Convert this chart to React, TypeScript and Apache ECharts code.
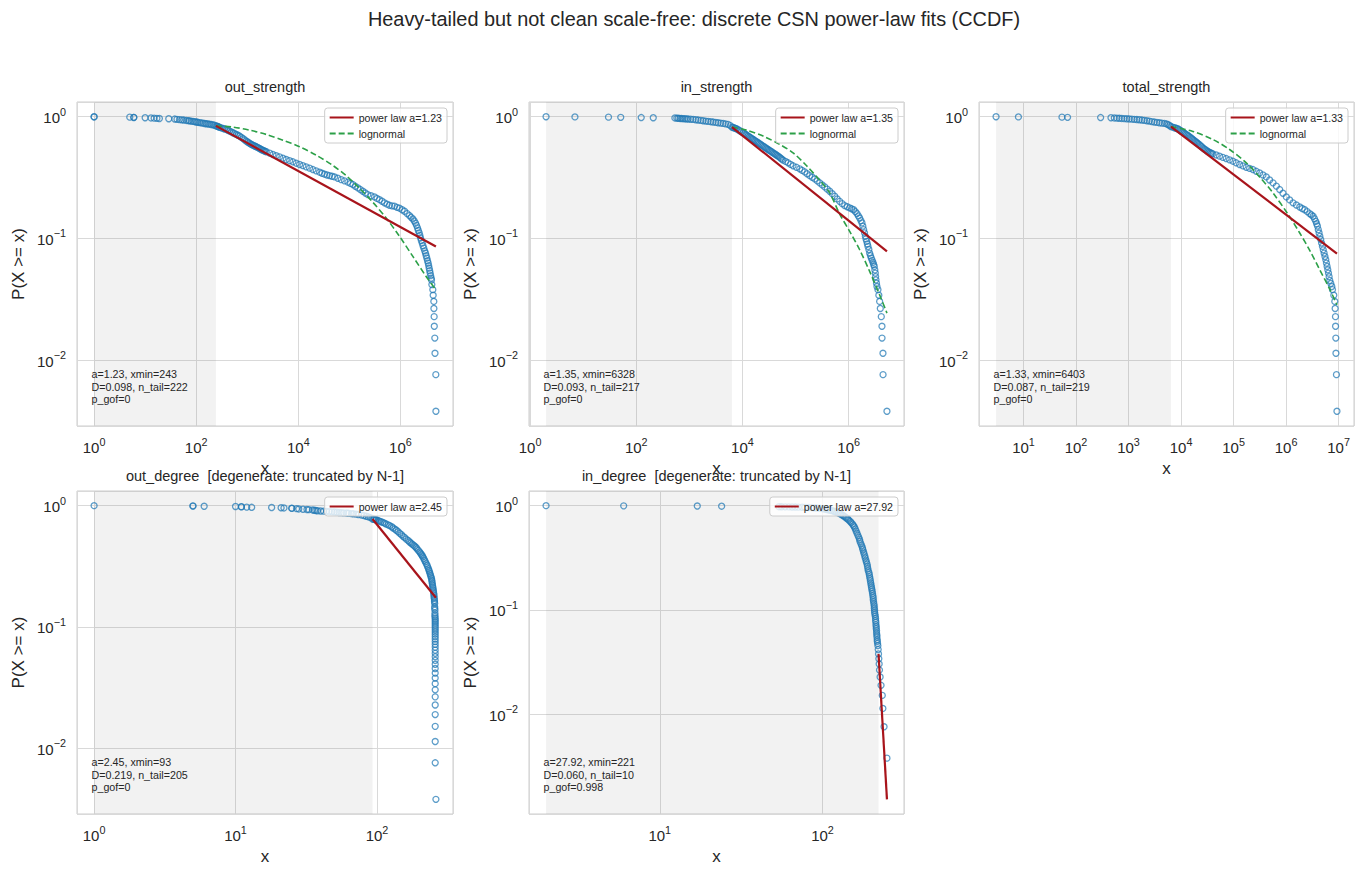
import { useEffect, useRef } from 'react';
import * as echarts from 'echarts';

type Pt = [number, number];

// number of nodes in the network (CCDF denominator)
const N_NODES = 264;

const panelTitles = [
  'out_strength',
  'in_strength',
  'total_strength',
  'out_degree  [degenerate: truncated by N-1]',
  'in_degree  [degenerate: truncated by N-1]',
];

// discrete CSN power-law fit results per variable
const fitAlpha = [1.23, 1.35, 1.33, 2.45, 27.92];
const fitXmin = [243, 6328, 6403, 93, 221];
const fitD = [0.098, 0.093, 0.087, 0.219, 0.06];
const fitNTail = [222, 217, 219, 205, 10];
const fitPgof = [0, 0, 0, 0, 0.998];

// empirical CCDF points: [x, P(X >= x)]
const outStrengthCCDF: Pt[] = [
  [1, 1], [1, 0.9962], [5, 0.9924], [6, 0.9886], [6, 0.9848], [10, 0.981], [13, 0.977], [15, 0.973], [17, 0.97], [19, 0.967],
  [29, 0.963], [38, 0.957], [42, 0.952], [47, 0.947], [52, 0.943], [57, 0.939], [64, 0.932], [70, 0.928], [74, 0.925], [80, 0.92],
  [87, 0.915], [94, 0.91], [101, 0.904], [108, 0.9], [117, 0.895], [126, 0.89], [136, 0.885], [147, 0.88], [158, 0.876], [170, 0.872],
  [183, 0.868], [198, 0.863], [213, 0.858], [228, 0.853], [243, 0.841], [255, 0.836], [265, 0.832], [276, 0.825], [288, 0.817], [310, 0.809],
  [335, 0.801], [360, 0.793], [389, 0.786], [418, 0.774], [450, 0.762], [487, 0.75], [525, 0.738], [566, 0.726], [610, 0.715], [658, 0.704],
  [709, 0.693], [768, 0.676], [830, 0.66], [892, 0.645], [957, 0.63], [1015, 0.62], [1080, 0.61], [1138, 0.601], [1199, 0.592], [1272, 0.585],
  [1350, 0.579], [1425, 0.572], [1503, 0.566], [1595, 0.559], [1690, 0.552], [1785, 0.545], [1884, 0.538], [1990, 0.532], [2100, 0.526], [2225, 0.52],
  [2356, 0.515], [2750, 0.502], [3184, 0.489], [3700, 0.478], [4300, 0.468], [5000, 0.456], [5803, 0.445], [6750, 0.435],
  [7834, 0.426], [9100, 0.415], [10590, 0.405], [12300, 0.396], [14290, 0.387], [16600, 0.378], [19320, 0.368], [22400, 0.359], [26070, 0.35], [29200, 0.343],
  [32670, 0.337], [36600, 0.332], [40900, 0.328], [45800, 0.324], [51260, 0.32], [59500, 0.312], [69190, 0.304], [80400, 0.297], [93470, 0.29], [105000, 0.283],
  [117000, 0.277], [131000, 0.268], [146600, 0.26], [164000, 0.252], [183600, 0.244], [205000, 0.236], [230000, 0.229], [266000, 0.224], [310400, 0.219], [348000, 0.213],
  [388900, 0.208], [437000, 0.202], [487300, 0.196], [547000, 0.191], [611000, 0.187], [685000, 0.185], [765500, 0.184], [857000, 0.18], [959000, 0.177], [1080000, 0.172],
  [1202000, 0.167], [1350000, 0.16], [1503000, 0.154], [1620000, 0.149], [1750000, 0.1445], [1860000, 0.139], [1972000, 0.1335], [2060000, 0.128], [2158000, 0.1219], [2240000, 0.116],
  [2328000, 0.111], [2400000, 0.106], [2472000, 0.101], [2560000, 0.096], [2663000, 0.0914], [2760000, 0.087], [2870000, 0.0831], [2980000, 0.079], [3097000, 0.0756], [3190000, 0.072],
  [3289000, 0.0688], [3390000, 0.0655], [3491000, 0.0626], [3570000, 0.0597], [3655000, 0.0569], [3740000, 0.0543], [3818000, 0.0518], [3910000, 0.0494], [3999000, 0.0471], [4060000, 0.04545],
  [4121000, 0.04167], [4305000, 0.03788], [4372000, 0.03409], [4505000, 0.0303], [4520000, 0.02652], [4571000, 0.02273], [4600000, 0.01894], [4710000, 0.01515], [4750000, 0.01136], [4930000, 0.00758],
  [4950000, 0.00379],
];

const inStrengthCCDF: Pt[] = [
  [2, 1], [7, 0.9962], [30, 0.9924], [51, 0.9886], [124, 0.9848], [209, 0.9811], [534, 0.977], [580, 0.974], [617, 0.971], [665, 0.968],
  [713, 0.966], [765, 0.964], [823, 0.962], [885, 0.96], [951, 0.957], [1060, 0.954], [1180, 0.951], [1320, 0.945], [1466, 0.939], [1640, 0.933],
  [1820, 0.927], [2040, 0.921], [2260, 0.915], [2530, 0.91], [2806, 0.904], [3140, 0.898], [3484, 0.892], [3900, 0.886], [4325, 0.881], [4800, 0.873],
  [5370, 0.865], [5900, 0.845], [6328, 0.822], [6650, 0.816], [7000, 0.81], [7350, 0.803], [7710, 0.796], [8300, 0.781], [8900, 0.767], [9550, 0.752],
  [10300, 0.738], [10900, 0.726], [11500, 0.715], [12100, 0.704], [12790, 0.693], [13500, 0.682], [14300, 0.671], [15100, 0.66], [15880, 0.65], [16800, 0.64],
  [17700, 0.63], [18700, 0.62], [19720, 0.611], [20800, 0.601], [22000, 0.592], [23200, 0.582], [24490, 0.573], [25900, 0.564], [27300, 0.555], [28800, 0.546],
  [30410, 0.538], [32100, 0.529], [33900, 0.521], [35800, 0.513], [37760, 0.505], [39900, 0.497], [42100, 0.489], [44500, 0.481], [46900, 0.474], [49600, 0.465],
  [52300, 0.457], [55200, 0.448], [58160, 0.44], [64800, 0.429], [72270, 0.418], [80500, 0.406], [89700, 0.395], [104000, 0.384], [119700, 0.373], [133000, 0.362],
  [148600, 0.352], [165000, 0.34], [184600, 0.328], [206000, 0.318], [229400, 0.308], [256000, 0.297], [284900, 0.286], [318000, 0.275], [354000, 0.265], [395000, 0.254],
  [439500, 0.244], [490000, 0.233], [545800, 0.222], [608000, 0.211], [677000, 0.2015], [755000, 0.193], [841400, 0.186], [940000, 0.182], [1045000, 0.178], [1140000, 0.175],
  [1241000, 0.172], [1335000, 0.166], [1435000, 0.16], [1520000, 0.153], [1611000, 0.147], [1700000, 0.14], [1782000, 0.134], [1850000, 0.126], [1916000, 0.118], [1990000, 0.111],
  [2060000, 0.104], [2120000, 0.099], [2183000, 0.0945], [2250000, 0.09], [2310000, 0.0859], [2400000, 0.081], [2484000, 0.0757], [2575000, 0.072], [2669000, 0.0688], [2770000, 0.066],
  [2870000, 0.0634], [2950000, 0.061], [3040000, 0.0588], [3110000, 0.055], [3177000, 0.0518], [3220000, 0.0485], [3268000, 0.0456], [3340000, 0.0428], [3412000, 0.0402], [3560000, 0.03788],
  [3700000, 0.03409], [3829000, 0.0303], [3941000, 0.02652], [4115000, 0.02273], [4237000, 0.01894], [4250000, 0.01515], [4426000, 0.01136], [4440000, 0.00758], [5260000, 0.00379],
];

const totalStrengthCCDF: Pt[] = [
  [3, 1], [8, 0.9962], [54, 0.9924], [69, 0.9886], [294, 0.9848], [463, 0.9811], [536, 0.977], [600, 0.974], [667, 0.971], [745, 0.968],
  [832, 0.965], [930, 0.962], [1036, 0.959], [1160, 0.955], [1291, 0.951], [1440, 0.948], [1607, 0.945], [1800, 0.939], [2004, 0.933], [2240, 0.927],
  [2495, 0.921], [2780, 0.912], [3107, 0.904], [3470, 0.898], [3873, 0.892], [4320, 0.886], [4823, 0.881], [5300, 0.872], [5700, 0.86], [6100, 0.845],
  [6403, 0.8295], [6950, 0.821], [7500, 0.812], [8050, 0.804], [8650, 0.796], [9150, 0.783], [9700, 0.771], [10250, 0.759], [10790, 0.747], [11400, 0.735],
  [12000, 0.724], [12700, 0.713], [13430, 0.702], [14200, 0.689], [15000, 0.676], [15900, 0.663], [16750, 0.65], [17700, 0.638], [18700, 0.626], [19800, 0.614],
  [20860, 0.603], [22100, 0.591], [23300, 0.579], [24600, 0.567], [26000, 0.555], [27500, 0.545], [29000, 0.536], [30700, 0.527], [32360, 0.518], [34200, 0.512],
  [36100, 0.506], [38200, 0.5], [40340, 0.4955], [46700, 0.485], [54050, 0.474], [62500, 0.463],
  [72440, 0.453], [84000, 0.442], [97070, 0.431], [112000, 0.418], [130300, 0.405], [151000, 0.394], [174600, 0.384], [202000, 0.376], [233900, 0.368], [271000, 0.356],
  [313400, 0.345], [363000, 0.332], [419800, 0.32], [486000, 0.302], [563300, 0.286], [652000, 0.269], [755100, 0.252], [873000, 0.235], [1011000, 0.219], [1170000, 0.207],
  [1355000, 0.196], [1570000, 0.188], [1820000, 0.181], [2030000, 0.176], [2265000, 0.172], [2530000, 0.166], [2820000, 0.1597], [3030000, 0.156], [3266000, 0.152], [3470000, 0.145],
  [3673000, 0.1381], [3810000, 0.132], [3954000, 0.1263], [4100000, 0.118], [4250000, 0.1107], [4400000, 0.104], [4571000, 0.0978], [4740000, 0.0915], [4918000, 0.0859], [5100000, 0.0805],
  [5294000, 0.0757], [5490000, 0.071], [5697000, 0.0668], [5860000, 0.0626], [6040000, 0.0588], [6220000, 0.0552], [6411000, 0.0518], [6600000, 0.0484], [6792000, 0.0451], [7100000, 0.0426],
  [7420000, 0.0402], [7638000, 0.03788], [8098000, 0.03409], [8457000, 0.0303], [8590000, 0.02652], [8718000, 0.02273], [8750000, 0.01894], [8850000, 0.01515], [8900000, 0.01136], [9100000, 0.00758],
  [9300000, 0.00379],
];

const outDegreeCCDF: Pt[] = [
  [1, 1], [5, 0.9962], [5, 0.9924], [6, 0.9886], [10, 0.9848], [11, 0.9811], [11, 0.9773], [12, 0.9735], [13, 0.9697], [18, 0.966],
  [21, 0.962], [22, 0.958], [25, 0.954], [25, 0.95], [27, 0.945], [28, 0.94], [30, 0.935], [32, 0.93], [33, 0.927], [35, 0.922],
  [36, 0.917], [37, 0.912], [38, 0.908], [40, 0.904], [42, 0.901], [44, 0.898], [46, 0.894], [48, 0.89], [50, 0.886], [52, 0.883],
  [54, 0.879], [56, 0.876], [58, 0.873], [61, 0.87], [63, 0.866], [66, 0.861], [68, 0.857], [71, 0.851], [74, 0.845], [78, 0.836],
  [81, 0.828], [84, 0.818], [87, 0.808], [90, 0.798], [93, 0.7765], [95, 0.773], [96, 0.77], [98, 0.766], [99, 0.763], [102, 0.754],
  [104, 0.745], [107, 0.737], [110, 0.728], [113, 0.717], [116, 0.706], [120, 0.695], [123, 0.684], [127, 0.67], [130, 0.655], [134, 0.641],
  [137, 0.627], [141, 0.61], [145, 0.592], [149, 0.576], [153, 0.559], [157, 0.545], [161, 0.53], [166, 0.516], [170, 0.502], [174, 0.492],
  [177, 0.482], [181, 0.473], [185, 0.463], [189, 0.452], [192, 0.44], [196, 0.428], [200, 0.416], [203, 0.406], [206, 0.396], [209, 0.387],
  [211, 0.378], [214, 0.367], [217, 0.355], [220, 0.344], [223, 0.333], [226, 0.323], [228, 0.313], [231, 0.303], [233, 0.2936], [235, 0.285],
  [237, 0.276], [239, 0.267], [241, 0.2587], [243, 0.251], [244, 0.243], [245, 0.236], [246, 0.228], [247, 0.221], [248, 0.214], [249, 0.208],
  [250, 0.201], [251, 0.195], [252, 0.189], [253, 0.183], [253, 0.1771], [254, 0.172], [255, 0.166], [255, 0.161], [256, 0.1561], [256, 0.147],
  [256, 0.142], [257, 0.1376], [257, 0.13], [257, 0.125], [257, 0.1212],
  [258, 0.11742], [258, 0.11364], [258, 0.10985], [258, 0.10606], [258, 0.10227], [258, 0.09848], [258, 0.0947], [258, 0.09091], [258, 0.08712],
  [258, 0.08333], [258, 0.07955], [258, 0.07576], [258, 0.07197], [258, 0.06818], [258, 0.06439], [258, 0.06061], [258, 0.05682], [258, 0.05303], [258, 0.04924],
  [258, 0.04545], [258, 0.04167], [258, 0.03788], [258, 0.03409], [258, 0.0303], [258, 0.02652], [258, 0.02273], [258, 0.01894], [258, 0.01515], [258, 0.01136],
  [258, 0.00758], [261, 0.00379],
];

const inDegreeCCDF: Pt[] = [
  [2, 1], [6, 0.9962], [17, 0.9924], [24, 0.9886], [54, 0.978], [56, 0.977], [59, 0.975], [62, 0.974], [65, 0.972], [68, 0.97],
  [71, 0.968], [75, 0.966], [78, 0.963], [82, 0.96], [86, 0.957], [89, 0.954], [92, 0.95], [96, 0.945], [100, 0.94], [101, 0.936],
  [103, 0.931], [105, 0.927], [106, 0.922], [108, 0.914], [111, 0.905], [114, 0.897], [117, 0.889], [119, 0.877], [122, 0.865], [125, 0.852],
  [128, 0.838], [130, 0.824], [133, 0.81], [135, 0.795], [138, 0.779], [140, 0.762], [143, 0.745], [145, 0.727], [148, 0.708], [150, 0.687],
  [153, 0.665], [155, 0.645], [157, 0.625], [159, 0.598], [161, 0.57], [163, 0.545], [165, 0.52], [167, 0.497], [169, 0.475], [170, 0.454],
  [172, 0.433], [174, 0.414], [176, 0.395], [177, 0.378], [179, 0.36], [180, 0.345], [182, 0.33], [183, 0.315], [185, 0.3], [186, 0.288],
  [188, 0.275], [189, 0.262], [190, 0.2495], [191, 0.238], [193, 0.228], [194, 0.218], [195, 0.2077], [196, 0.199], [197, 0.19], [198, 0.181],
  [199, 0.1728], [200, 0.165], [201, 0.158], [202, 0.151], [203, 0.1439], [204, 0.137], [205, 0.131], [205, 0.125], [206, 0.1197], [207, 0.114],
  [208, 0.109], [208, 0.104], [209, 0.0996], [209, 0.095], [210, 0.091], [211, 0.087], [212, 0.0829], [212, 0.079], [213, 0.076], [213, 0.072],
  [214, 0.069], [214, 0.066], [215, 0.063], [215, 0.06], [216, 0.0574], [216, 0.055], [217, 0.052], [217, 0.05], [218, 0.0478], [219, 0.04545],
  [220, 0.04167], [221, 0.03788], [222, 0.03409], [223, 0.0303], [224, 0.02652], [226, 0.02273], [229, 0.01894], [233, 0.01515], [235, 0.01136], [239, 0.00758],
  [249, 0.00379],
];

// lognormal fit curves (tail only): [x, P(X >= x)]
const outStrengthLognormal: Pt[] = [
  [243, 0.841], [525, 0.822], [1112, 0.776], [2356, 0.715], [4997, 0.642], [10590, 0.566], [22440, 0.483], [47550, 0.397],
  [86700, 0.328], [158200, 0.258], [288400, 0.198], [526000, 0.147], [959000, 0.1039], [1750000, 0.0711], [3188000, 0.0486], [4950000, 0.0378],
];
const inStrengthLognormal: Pt[] = [
  [6328, 0.822], [11890, 0.776], [24490, 0.693], [50350, 0.592], [89700, 0.505], [159900, 0.397], [284900, 0.3006],
  [439500, 0.2363], [677000, 0.1586], [1045000, 0.1142], [1611000, 0.0806], [2484000, 0.0535], [3829000, 0.0343], [5260000, 0.0243],
];
const totalStrengthLognormal: Pt[] = [
  [6403, 0.8295], [16750, 0.757], [40340, 0.65], [83900, 0.538], [174600, 0.418], [313400, 0.32], [563300, 0.2363],
  [1089000, 0.1577], [1820000, 0.1107], [2820000, 0.0796], [4375000, 0.0552], [6792000, 0.0382], [9300000, 0.0284],
];

const ccdfPoints: Pt[][] = [outStrengthCCDF, inStrengthCCDF, totalStrengthCCDF, outDegreeCCDF, inDegreeCCDF];
const lognormalCurves: (Pt[] | null)[] = [outStrengthLognormal, inStrengthLognormal, totalStrengthLognormal, null, null];

// layout
const W = 1366;
const H = 877;
const grids = [
  { left: 77, top: 102, width: 376, height: 324 },
  { left: 529, top: 102, width: 375, height: 324 },
  { left: 979, top: 102, width: 375, height: 324 },
  { left: 77, top: 491, width: 376, height: 323 },
  { left: 529, top: 491, width: 375, height: 323 },
];
const xDecadeStep = [2, 2, 1, 1, 1];

const FONT = "Arial, 'Liberation Sans', Helvetica, sans-serif";
const TEXT = '#262626';
const GRID_LINE = '#d9d9d9';
const BORDER = '#cccccc';
const BLUE = '#1f77b4';
const RED = '#a8141b';
const GREEN = '#2ca048';

const lg = Math.log10;

function powerLabel(v: number): string {
  if (Math.abs(v - Math.round(v)) > 1e-6) return '';
  const e = Math.round(v);
  const s = e < 0 ? '\u2212' + Math.abs(e) : String(e === 0 ? 0 : e);
  return `{b|10}{s|${s}}`;
}

const tickRich = {
  b: { fontSize: 15, fontFamily: FONT, color: TEXT, verticalAlign: 'bottom', lineHeight: 17 },
  s: { fontSize: 10.8, fontFamily: FONT, color: TEXT, verticalAlign: 'bottom', lineHeight: 11, padding: [0, 0, 8, 0] },
};

function buildOption() {
  const xAxes: any[] = [];
  const yAxes: any[] = [];
  const series: any[] = [];
  const legends: any[] = [];
  const graphics: any[] = [];

  graphics.push({
    type: 'text',
    x: 694,
    y: 19,
    silent: true,
    style: {
      text: 'Heavy-tailed but not clean scale-free: discrete CSN power-law fits (CCDF)',
      font: `19.9px ${FONT}`,
      fill: TEXT,
      textAlign: 'center',
      textVerticalAlign: 'middle',
    },
  });

  ccdfPoints.forEach((pts, i) => {
    const g = grids[i];
    const xs = pts.map((p) => p[0]);
    const dataMinX = Math.min(...xs);
    const dataMaxX = Math.max(...xs);

    // power-law CCDF from the fit: P(X>=x) = (n_tail/N) * (x/xmin)^(1-alpha)
    const tailFrac = fitNTail[i] / N_NODES;
    const plEnd = tailFrac * Math.pow(dataMaxX / fitXmin[i], 1 - fitAlpha[i]);
    const powerLine: Pt[] = [
      [fitXmin[i], tailFrac],
      [dataMaxX, plEnd],
    ];
    const logn = lognormalCurves[i];

    const allY = [...pts.map((p) => p[1]), ...powerLine.map((p) => p[1]), ...(logn ? logn.map((p) => p[1]) : [])];
    const yLo = lg(Math.min(...allY));
    const yHi = lg(Math.max(...allY));
    const xLo = lg(dataMinX);
    const xHi = lg(dataMaxX);
    const xPad = 0.05 * (xHi - xLo);
    const yPad = 0.05 * (yHi - yLo);

    xAxes.push({
      type: 'value',
      gridIndex: i,
      min: xLo - xPad,
      max: xHi + xPad,
      minInterval: xDecadeStep[i],
      maxInterval: xDecadeStep[i],
      splitNumber: 5,
      axisLine: { show: false },
      axisTick: { show: false },
      splitLine: { show: true, lineStyle: { color: GRID_LINE, width: 1 } },
      axisLabel: { formatter: powerLabel, margin: 12, showMinLabel: true, showMaxLabel: true, rich: tickRich },
      name: 'x',
      nameLocation: 'middle',
      nameGap: 34,
      nameTextStyle: { fontSize: 17, color: TEXT, fontFamily: FONT },
    });
    yAxes.push({
      type: 'value',
      gridIndex: i,
      min: yLo - yPad,
      max: yHi + yPad,
      minInterval: 1,
      maxInterval: 1,
      splitNumber: 3,
      axisLine: { show: false },
      axisTick: { show: false },
      splitLine: { show: true, lineStyle: { color: GRID_LINE, width: 1 } },
      axisLabel: { formatter: powerLabel, margin: 11, showMinLabel: true, showMaxLabel: true, rich: tickRich },
      name: 'P(X >= x)',
      nameLocation: 'middle',
      nameGap: 50,
      nameRotate: 90,
      nameTextStyle: { fontSize: 17, color: TEXT, fontFamily: FONT },
    });

    const plName = `power law a=${fitAlpha[i].toFixed(2)}`;

    series.push({
      type: 'scatter',
      xAxisIndex: i,
      yAxisIndex: i,
      symbol: 'circle',
      symbolSize: 6,
      silent: true,
      z: 2,
      itemStyle: { color: 'rgba(0,0,0,0)', borderColor: BLUE, borderWidth: 1.3, opacity: 0.72 },
      data: pts.map((p) => [lg(p[0]), lg(p[1])]),
      markArea: {
        silent: true,
        label: { show: false },
        itemStyle: { color: 'rgba(128,128,128,0.1)' },
        data: [[{ xAxis: lg(dataMinX) }, { xAxis: lg(fitXmin[i]) }]],
      },
    });

    if (logn) {
      series.push({
        type: 'line',
        name: 'lognormal',
        xAxisIndex: i,
        yAxisIndex: i,
        symbol: 'none',
        smooth: 0.3,
        silent: true,
        z: 3,
        lineStyle: { color: GREEN, width: 1.6, type: [6, 3] },
        itemStyle: { color: GREEN },
        data: logn.map((p) => [lg(p[0]), lg(p[1])]),
      });
    }

    series.push({
      type: 'line',
      name: plName,
      xAxisIndex: i,
      yAxisIndex: i,
      symbol: 'none',
      silent: true,
      z: 4,
      lineStyle: { color: RED, width: 2.2 },
      itemStyle: { color: RED },
      data: powerLine.map((p) => [lg(p[0]), lg(p[1])]),
    });

    legends.push({
      orient: 'vertical',
      right: W - (g.left + g.width) + 6,
      top: g.top + 6,
      data: logn ? [plName, 'lognormal'] : [plName],
      itemWidth: 24,
      itemHeight: 10,
      itemGap: 5,
      padding: [4, 5, 4, 4],
      selectedMode: false,
      backgroundColor: 'rgba(255,255,255,0.8)',
      borderColor: BORDER,
      borderWidth: 1,
      borderRadius: 3,
      itemStyle: { color: 'rgba(0,0,0,0)', borderWidth: 0, opacity: 0 },
      textStyle: { fontSize: 10.6, color: TEXT, fontFamily: FONT },
    });

    // subplot title
    graphics.push({
      type: 'text',
      x: g.left + g.width / 2,
      y: g.top - 15,
      silent: true,
      style: {
        text: panelTitles[i],
        font: `14.5px ${FONT}`,
        fill: TEXT,
        textAlign: 'center',
        textVerticalAlign: 'middle',
      },
    });

    // fit summary
    graphics.push({
      type: 'text',
      x: g.left + 14.5,
      y: g.top + g.height - 58,
      silent: true,
      z: 10,
      style: {
        text: `a=${fitAlpha[i].toFixed(2)}, xmin=${fitXmin[i]}\nD=${fitD[i].toFixed(3)}, n_tail=${fitNTail[i]}\np_gof=${fitPgof[i]}`,
        font: `10.7px ${FONT}`,
        lineHeight: 12.5,
        fill: TEXT,
        textAlign: 'left',
        textVerticalAlign: 'top',
      },
    });
  });

  return {
    animation: false,
    backgroundColor: '#ffffff',
    grid: grids.map((g) => ({ ...g, show: true, borderColor: BORDER, borderWidth: 1, backgroundColor: '#ffffff' })),
    xAxis: xAxes,
    yAxis: yAxes,
    legend: legends,
    series,
    graphic: graphics,
  };
}

export default function App() {
  const ref = useRef<HTMLDivElement>(null);
  useEffect(() => {
    if (!ref.current) return;
    const chart = echarts.init(ref.current, undefined, { renderer: 'svg' });
    chart.setOption(buildOption() as any);
    return () => chart.dispose();
  }, []);
  return (
    <div
      ref={ref}
      style={{ position: 'fixed', left: 0, top: 0, width: W, height: H, background: '#ffffff' }}
    />
  );
}
